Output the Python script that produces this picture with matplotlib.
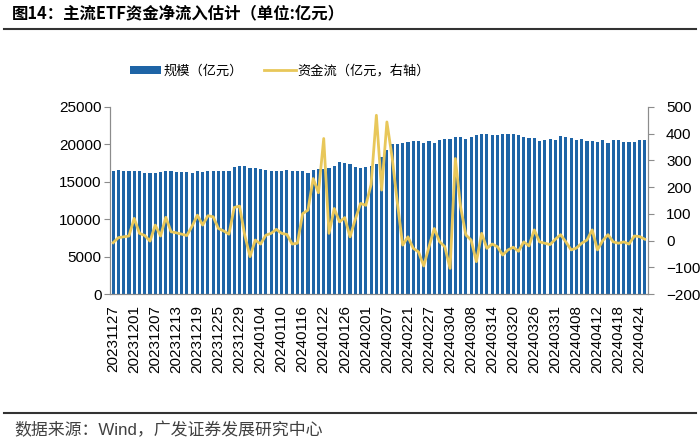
import matplotlib
matplotlib.use("Agg")
import matplotlib.pyplot as plt
import numpy as np
from matplotlib.patches import Patch
from matplotlib.lines import Line2D

plt.rcParams['font.family'] = ['Liberation Sans', 'Noto Sans CJK SC', 'DejaVu Sans']

scale = [16500,16550,16410,16410,16500,16410,16150,16190,16190,16280,16410,16500,16330,16330,16330,16240,16410,16280,16500,16500,16500,16410,16500,17000,17170,
         17080,16900,16860,16730,16590,16410,16410,16410,16550,16460,16410,16460,16190,16640,16680,16770,16810,17170,17600,17500,17440,17000,16810,17000,17080,
         17350,18330,19200,20000,20060,20240,20370,20420,20420,20240,20460,20200,20640,20730,20730,20950,21040,20770,21000,21200,21400,21350,21200,21260,21440,21350,
         21400,21300,21000,20820,20860,20500,20640,20680,20640,21090,21040,20820,20550,20680,20460,20460,20280,20550,20240,20550,20550,20370,20330,20370,20600,20600]

flow = [-8,11,14,17,83,27,19,-2,58,17,87,33,29,24,19,54,95,58,93,89,45,36,24,124,129,
        20,-60,2,-13,20,27,42,27,23,-13,-10,101,114,232,179,382,27,120,70,86,14,80,139,132,210,
        469,189,444,310,139,-17,14,-29,-42,-95,-23,45,-4,-23,-104,307,126,21,2,-79,27,-29,-13,-23,-54,-35,
        -25,-40,-5,-20,40,-5,-10,-15,5,22,-5,-35,-28,-10,2,40,-35,0,22,-5,-10,-5,-13,17,15,5]

tick_labels = ['20231127','20231201','20231207','20231213','20231219','20231225','20231229',
               '20240104','20240110','20240116','20240122','20240126','20240201','20240207',
               '20240221','20240227','20240304','20240308','20240314','20240320','20240326',
               '20240331','20240408','20240412','20240418','20240424']

bar_color = '#1E64A6'
line_color = '#E8C75A'
spine_color = '#8C8C8C'

fig = plt.figure(figsize=(7, 4.41), dpi=100)
ax = fig.add_axes([110/700, 1-294/441, (648-110)/700, (294-107)/441])
ax2 = ax.twinx()

x = np.arange(len(scale))
ax.bar(x, scale, width=0.6, color=bar_color, zorder=2)
ax2.plot(x, flow, color=line_color, lw=2.0, zorder=3)

ax.set_xlim(-0.6, len(scale) - 0.4)
ax.set_ylim(0, 25000)
ax.set_yticks(np.arange(0, 25001, 5000))
ax2.set_ylim(-200, 500)
ax2.set_yticks(np.arange(-200, 501, 100))

ax.set_xticks(x[::4][:len(tick_labels)])
ax.set_xticklabels(tick_labels, rotation=90, fontsize=11)
ax.tick_params(axis='x', length=0, pad=8)
ax.tick_params(axis='y', labelsize=11, length=4, width=0.8, color=spine_color, pad=2)
ax2.tick_params(axis='y', labelsize=11, length=4, width=0.8, color=spine_color, pad=9)

for a in (ax, ax2):
    a.spines['top'].set_visible(False)
    for s in ('left', 'right', 'bottom'):
        a.spines[s].set_color(spine_color)
        a.spines[s].set_linewidth(0.8)

ax.set_zorder(ax2.get_zorder() - 1)
ax2.patch.set_visible(False)

# legend
handles = [Patch(facecolor=bar_color, edgecolor='none'),
           Line2D([0], [0], color=line_color, lw=2.0)]
fig.legend(handles, ['规模（亿元）', '资金流（亿元，右轴）'], loc='center',
           bbox_to_anchor=(280/700, 1-71/441), ncol=2, frameon=False, fontsize=9.5,
           handlelength=2.4, handleheight=0.5, handletextpad=0.15, columnspacing=1.6)

# title and separators
fig.text(12/700, 1-14/441, '图14：主流ETF资金净流入估计（单位:亿元）', fontsize=11.8,
         fontweight='bold', ha='left', va='center',
         family=['Noto Sans CJK SC', 'DejaVu Sans'])
fig.add_artist(Line2D([4/700, 696/700], [1-29/441, 1-29/441], color='#333333', lw=1.5))
fig.add_artist(Line2D([4/700, 696/700], [1-413/441, 1-413/441], color='#333333', lw=1.5))
fig.text(14/700, 1-430/441, '数据来源：Wind，广发证券发展研究中心', fontsize=12.2,
         ha='left', va='center', color='#404040')

fig.savefig('out.png', dpi=100)
